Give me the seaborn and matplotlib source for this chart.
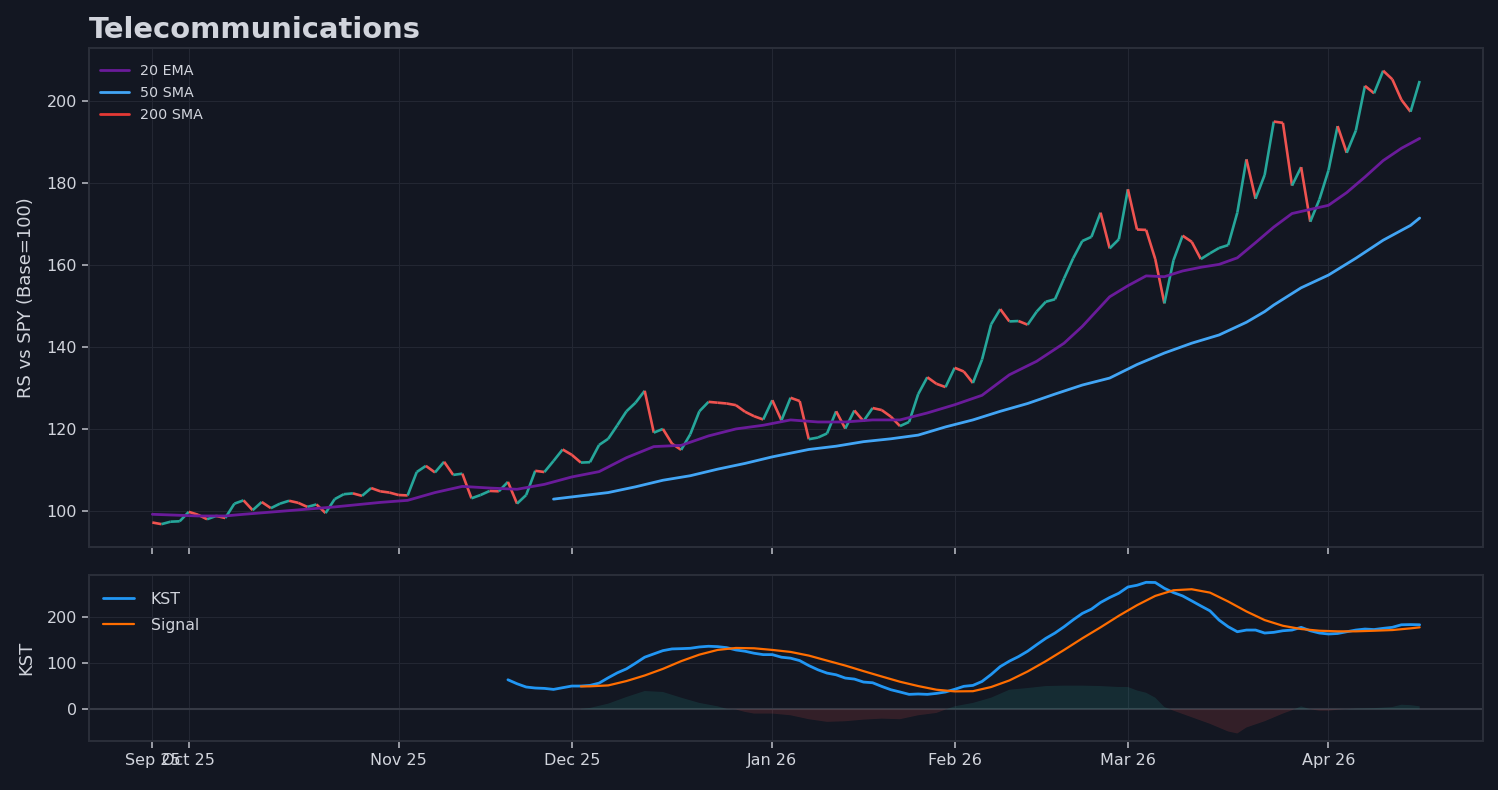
import numpy as np
import matplotlib
matplotlib.use('Agg')
import matplotlib.pyplot as plt
import seaborn as sns
from matplotlib.collections import LineCollection
from matplotlib.ticker import MultipleLocator

# x axis is a trading-day index, labels sit on the first session of each month
tick_days = [0, 4, 27, 46, 68, 88, 107, 129]
tick_labels = ['Sep 25', 'Oct 25', 'Nov 25', 'Dec 25', 'Jan 26', 'Feb 26', 'Mar 26', 'Apr 26']

# relative strength vs SPY, one value per session
rs_line = [
    97.3, 96.9, 97.5, 97.6, 99.9, 99.2, 98.1, 98.9, 98.4, 101.9,
    102.7, 100.3, 102.3, 100.8, 101.9, 102.6, 102.1, 101.1, 101.7, 99.6,
    103.0, 104.2, 104.4, 103.8, 105.7, 104.9, 104.6, 104.0, 103.9, 109.6,
    111.1, 109.5, 112.1, 108.9, 109.2, 103.2, 104.0, 105.0, 104.9, 107.2,
    101.9, 104.0, 109.9, 109.6, 112.3, 115.1, 113.8, 111.9, 112.0, 116.2,
    117.7, 121.0, 124.4, 126.5, 129.4, 119.2, 120.1, 116.5, 115.0, 118.8,
    124.4, 126.7, 126.5, 126.3, 125.9, 124.3, 123.2, 122.4, 127.1, 122.2,
    127.7, 126.9, 117.6, 118.0, 119.0, 124.4, 120.2, 124.6, 122.0, 125.2,
    124.7, 123.1, 120.8, 121.8, 128.6, 132.7, 131.1, 130.3, 135.0, 134.1,
    131.3, 137.0, 145.6, 149.3, 146.3, 146.4, 145.5, 148.7, 151.1, 151.7,
    156.8, 161.7, 165.9, 166.9, 172.8, 164.1, 166.3, 178.5, 168.7, 168.6,
    161.5, 150.7, 161.2, 167.2, 165.7, 161.5, 162.9, 164.2, 164.9, 172.8,
    185.8, 176.2, 182.0, 195.0, 194.7, 179.4, 183.9, 170.6, 176.0, 183.1,
    193.9, 187.4, 192.8, 203.7, 201.9, 207.4, 205.3, 200.3, 197.4, 204.9,
]

ema20_day = [0, 5, 8, 10, 15, 20, 25, 28, 31, 34, 37, 40, 43, 46, 49, 52, 55, 58,
             61, 64, 67, 70, 73, 76, 79, 82, 85, 88, 91, 94, 97, 100, 102, 103, 105,
             107, 109, 111, 113, 115, 117, 119, 121, 123, 125, 127, 129, 131, 133,
             135, 137, 139]
ema20 = [99.3, 98.9, 98.9, 99.3, 100.2, 101.1, 102.2, 102.7, 104.6, 106.1, 105.7,
         105.4, 106.6, 108.4, 109.7, 113.1, 115.8, 116.1, 118.4, 120.1, 121.0, 122.3,
         121.8, 121.8, 122.3, 122.3, 124.0, 126.0, 128.3, 133.3, 136.6, 141.0, 145.1,
         147.5, 152.3, 155.0, 157.4, 157.2, 158.6, 159.5, 160.2, 161.8, 165.5, 169.3,
         172.6, 173.6, 174.6, 177.7, 181.5, 185.5, 188.5, 190.9]

sma50_day = [44, 47, 50, 53, 56, 59, 62, 65, 68, 72, 75, 78, 81, 84, 87, 90, 93, 96,
             99, 102, 105, 108, 111, 114, 117, 120, 122, 123, 126, 129, 132, 135, 138, 139]
sma50 = [103.0, 103.8, 104.6, 106.0, 107.6, 108.7, 110.3, 111.7, 113.3, 115.1, 115.9,
         117.0, 117.7, 118.6, 120.6, 122.3, 124.4, 126.3, 128.6, 130.8, 132.5, 135.8,
         138.6, 141.0, 143.0, 146.1, 148.7, 150.3, 154.5, 157.6, 161.7, 166.1, 169.7, 171.5]

# not enough history for the 200 SMA yet
sma200_day = []
sma200 = []

kst_day = list(range(39, 140))
kst = [
    64.3, 55.6, 48.5, 46.3, 45.5, 43.3, 47.0, 50.6, 50.6, 52.0,
    57.0, 68.6, 79.4, 88.0, 100.4, 113.4, 120.6, 127.7, 131.4, 132.0,
    132.8, 135.7, 137.2, 136.4, 134.2, 129.2, 126.4, 122.0, 119.0, 119.0,
    113.4, 111.3, 106.0, 95.2, 86.0, 78.8, 75.1, 68.0, 65.8, 59.3,
    57.8, 49.8, 42.6, 37.7, 32.5, 33.3, 32.5, 34.6, 37.7, 43.5,
    50.0, 52.0, 60.6, 75.8, 93.0, 104.8, 114.7, 126.4, 140.7, 154.5,
    166.0, 179.7, 194.8, 208.7, 218.0, 232.5, 243.3, 252.6, 266.2, 270.0,
    276.4, 276.0, 263.4, 254.0, 246.8, 236.0, 225.0, 214.3, 194.2, 179.7,
    168.8, 172.5, 172.5, 166.0, 167.5, 171.0, 172.5, 178.4, 171.0, 166.0,
    163.9, 165.0, 168.8, 172.5, 174.7, 173.6, 176.2, 178.4, 184.0, 184.4,
    184.0,
]

signal_day = [47, 48, 50, 52, 54, 56, 58, 60, 62, 64, 66, 68, 70, 72, 74, 76, 78, 80,
              82, 84, 86, 88, 90, 92, 94, 96, 98, 100, 102, 104, 106, 108, 110, 112,
              114, 116, 118, 120, 122, 124, 126, 128, 130, 132, 134, 136, 138, 139]
signal = [49.8, 50.0, 52.0, 61.5, 73.6, 88.0, 104.8, 119.0, 129.2, 133.5, 132.8, 129.2,
          124.9, 116.9, 106.0, 95.2, 83.1, 71.4, 60.0, 50.6, 42.6, 39.0, 39.4, 48.5,
          62.8, 82.3, 104.8, 129.2, 154.5, 178.4, 203.5, 226.6, 246.8, 259.1, 261.3,
          254.0, 234.6, 213.0, 194.2, 181.8, 174.7, 171.0, 169.7, 169.7, 171.0, 172.5,
          176.2, 178.4]

hist_day = [47, 48, 50, 52, 54, 56, 58, 60, 62, 63, 64, 65, 66, 68, 70, 72, 74, 76, 78,
            80, 82, 84, 86, 87, 88, 90, 92, 94, 96, 98, 100, 102, 104, 106, 107, 108,
            109, 110, 111, 112, 114, 116, 118, 119, 120, 122, 124, 125, 126, 127, 128,
            129, 130, 132, 134, 136, 137, 138, 139]
hist = [1.0, 3.0, 12.3, 26.8, 39.8, 37.7, 25.3, 13.9, 6.5, 1.0, -0.5, -5.7, -9.3, -9.3,
        -13.0, -21.6, -27.3, -26.0, -22.5, -20.3, -21.6, -13.0, -7.9, -0.5, 6.5, 13.9,
        25.3, 42.6, 46.3, 50.6, 51.5, 51.5, 50.6, 48.5, 48.5, 41.0, 36.0, 25.3, 5.0,
        -3.0, -17.3, -31.6, -48.3, -52.6, -39.6, -26.0, -9.3, -2.0, 6.5, 0.0, -3.0,
        -3.0, -1.0, 1.5, 2.5, 5.0, 10.0, 9.0, 6.5]

BG = '#131722'
TXT = '#d1d4dc'
EDGE = '#2a2e39'
UP = '#26a69a'
DOWN = '#ef5350'

sns.set_theme(style='darkgrid', rc={
    'figure.facecolor': BG,
    'axes.facecolor': BG,
    'axes.edgecolor': EDGE,
    'axes.linewidth': 1.5,
    'grid.color': '#232733',
    'grid.linewidth': 0.8,
    'text.color': TXT,
    'axes.labelcolor': TXT,
    'xtick.color': TXT,
    'ytick.color': TXT,
    'xtick.bottom': True,
    'ytick.left': True,
    'xtick.major.size': 5,
    'ytick.major.size': 5,
    'xtick.major.width': 1.2,
    'ytick.major.width': 1.2,
})
plt.rcParams['font.family'] = ['DejaVu Sans']

fig, (ax1, ax2) = plt.subplots(2, 1, figsize=(14.98, 7.9), dpi=100, sharex=True,
                               gridspec_kw={'height_ratios': [3, 1]})
fig.subplots_adjust(left=0.0594, right=0.99, top=0.9392, bottom=0.062, hspace=0.084)

# price line, teal on up days and red on down days
days = np.arange(len(rs_line))
rs = np.array(rs_line)
pts = np.column_stack([days, rs])
segs = np.stack([pts[:-1], pts[1:]], axis=1)
seg_colors = np.where(np.diff(rs) >= 0, UP, DOWN)
ax1.add_collection(LineCollection(segs, colors=seg_colors, linewidths=1.9, zorder=2))

sns.lineplot(x=ema20_day, y=ema20, ax=ax1, color='#6a1b9a', linewidth=2.0, label='20 EMA')
sns.lineplot(x=sma50_day, y=sma50, ax=ax1, color='#42a5f5', linewidth=2.0, label='50 SMA')
ax1.plot(sma200_day, sma200, color='#e53935', linewidth=2.0, label='200 SMA')
ax1.autoscale_view()

ax1.set_title('Telecommunications', loc='left', fontsize=20.9, fontweight='bold',
              color=TXT, pad=7.5)
ax1.set_ylabel('RS vs SPY (Base=100)', fontsize=13, labelpad=8)
ax1.yaxis.set_major_locator(MultipleLocator(20))
ax1.legend(loc='upper left', bbox_to_anchor=(-0.001, 0.994), frameon=False,
           fontsize=10.3, labelcolor=TXT, labelspacing=0.55, handletextpad=0.75)

# KST panel
ax2.axhline(0, color='#363a45', linewidth=1.5, zorder=1)
h_day = np.array(hist_day)
h = np.array(hist)
ax2.fill_between(h_day, 0, h, where=h >= 0, interpolate=True, color=UP, alpha=0.15, linewidth=0)
ax2.fill_between(h_day, 0, h, where=h <= 0, interpolate=True, color=DOWN, alpha=0.15, linewidth=0)
sns.lineplot(x=kst_day, y=kst, ax=ax2, color='#2196f3', linewidth=2.0, label='KST')
sns.lineplot(x=signal_day, y=signal, ax=ax2, color='#ff6d00', linewidth=1.6, label='Signal')
ax2.set_ylabel('KST', fontsize=13, labelpad=8)
ax2.yaxis.set_major_locator(MultipleLocator(100))
ax2.legend(loc='upper left', bbox_to_anchor=(0.0, 0.982), frameon=False,
           fontsize=11.3, labelcolor=TXT, labelspacing=0.7, handletextpad=1.05)

ax2.set_xticks(tick_days)
ax2.set_xticklabels(tick_labels)
for ax in (ax1, ax2):
    ax.tick_params(labelsize=11.5, colors=TXT)
    ax.tick_params(axis='both', color='#b2b5be')
    ax.set_xlabel('')
    for sp in ax.spines.values():
        sp.set_color(EDGE)
        sp.set_linewidth(1.5)
ax1.tick_params(labelbottom=False)

fig.savefig('out.png', dpi=100, facecolor=BG)
